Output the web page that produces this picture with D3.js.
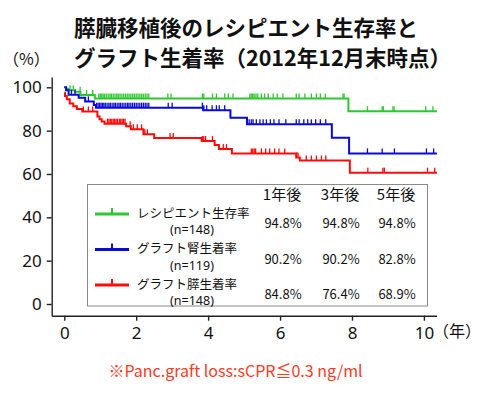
<!DOCTYPE html>
<html>
<head>
<meta charset="utf-8">
<script src="https://cdn.jsdelivr.net/npm/d3@7/dist/d3.min.js"></script>
<style>
  body { margin: 0; background: #fff; }
  text { font-family: "Noto Sans CJK JP", "Noto Sans", sans-serif; fill: #111; }
</style>
</head>
<body>
<div id="chart"></div>
<script>
// Kaplan-Meier steps (years, %)
var greenTimes  = [0, 0.05, 0.12, 0.3, 0.45, 0.85, 7.9];
var greenValues = [100, 99.3, 98.6, 97.9, 96.4, 94.8, 89.0];
var greenCensor = [0.16, 0.25, 0.44, 0.62, 0.79, 0.96, 1.0, 1.04, 1.08, 1.12, 1.17, 1.22, 1.27, 1.31, 1.36,
  1.41, 1.46, 1.5, 1.55, 1.6, 1.65, 1.7, 1.75, 1.8, 1.85, 1.9, 1.95, 2.0, 2.05, 2.1, 2.15, 2.2, 2.25, 2.3,
  2.35, 2.88, 2.97, 3.84, 3.88, 4.12, 4.23, 4.46, 4.56, 4.69, 5.16, 5.2, 5.24, 5.28, 5.33, 5.38, 5.48, 5.57,
  5.67, 5.81, 5.92, 6.08, 6.45, 6.53, 6.69, 6.87, 7.01, 7.12, 7.26, 7.75, 7.78, 8.43, 8.84, 8.87, 9.14,
  9.17, 10.05, 10.25];

var blueTimes  = [0, 0.05, 0.12, 0.4, 0.58, 0.82, 0.88, 3.86, 4.62, 5.08, 7.44, 7.92];
var blueValues = [100, 98.6, 96.6, 95.2, 93.5, 91.8, 90.6, 89.4, 86.0, 82.9, 76.7, 69.5];
var blueCensor = [0.2, 0.3, 0.67, 0.9, 0.94, 0.98, 1.02, 1.06, 1.1, 1.14, 1.19, 1.24, 1.28, 1.33, 1.38,
  1.42, 1.47, 1.52, 1.56, 1.61, 1.66, 1.71, 1.76, 1.8, 1.85, 1.9, 1.95, 2.0, 2.05, 2.1, 2.15, 2.2, 2.25,
  2.3, 2.35, 2.89, 3.0, 3.84, 3.88, 3.96, 4.11, 4.23, 4.31, 4.46, 5.14, 5.2, 5.25, 5.34, 5.44, 5.53, 5.62,
  5.73, 5.83, 5.97, 6.16, 6.45, 6.53, 6.66, 6.77, 6.87, 6.99, 7.12, 7.27, 8.43, 8.84, 9.18, 10.07, 10.27];

var redTimes  = [0, 0.02, 0.07, 0.15, 0.25, 0.35, 0.5, 0.92, 0.98, 1.04, 1.12, 1.72, 1.85, 2.2, 2.5,
  3.82, 4.18, 4.3, 4.66, 6.45, 6.55, 7.94];
var redValues = [97.5, 96, 94.5, 92.5, 91.2, 90, 88.8, 86.5, 85.3, 84.2, 83.2, 82.0, 80.6, 78.3, 76.6,
  75.2, 73.4, 71.5, 69.5, 67.6, 66.2, 60.6];
var redCensor = [0.53, 0.67, 0.79, 1.2, 1.24, 1.28, 1.32, 1.36, 1.4, 1.44, 1.48, 1.53, 1.57, 1.61, 1.65,
  1.69, 1.83, 1.92, 2.03, 2.15, 2.24, 2.31, 2.94, 3.03, 3.84, 3.88, 3.93, 4.12, 4.42, 4.51, 5.2, 5.24,
  5.28, 5.32, 5.48, 5.6, 5.71, 5.85, 5.97, 6.13, 6.46, 6.5, 6.73, 6.87, 7.01, 7.15, 7.27, 8.44, 8.86,
  8.9, 10.1, 10.3];

var endYear = 10.36;

// table in the legend box
var tableHeads = ["1年後", "3年後", "5年後"];
var seriesNames = ["レシピエント生存率", "グラフト腎生着率", "グラフト膵生着率"];
var seriesN = ["(n=148)", "(n=119)", "(n=148)"];
var rates = [
  ["94.8%", "94.8%", "94.8%"],
  ["90.2%", "90.2%", "82.8%"],
  ["84.8%", "76.4%", "68.9%"]
];

var xTicks = [0, 2, 4, 6, 8, 10];
var yTicks = [0, 20, 40, 60, 80, 100];

var colors = ["#2fc72f", "#0a0ad8", "#ff0a0a"];

var svgWidth = 489;
var svgHeight = 394;

var margin = { top: 77, right: 52.5, bottom: 78.3, left: 51.7 };
var chartWidth = svgWidth - margin.left - margin.right;
var chartHeight = svgHeight - margin.top - margin.bottom;

var svg = d3.select("#chart")
  .append("svg")
  .attr("width", svgWidth)
  .attr("height", svgHeight);

var chartGroup = svg.append("g")
  .attr("transform", `translate(${margin.left}, ${margin.top})`);

var xScale = d3.scaleLinear().domain([-0.35, 10.35]).range([0, chartWidth]);
var yScale = d3.scaleLinear().domain([-5.4, 104.75]).range([chartHeight, 0]);

// Axes
var bottomAxis = d3.axisBottom(xScale).tickValues(xTicks).tickSize(5).tickSizeOuter(0).tickPadding(6);
var leftAxis = d3.axisLeft(yScale).tickValues(yTicks).tickSize(5).tickSizeOuter(0).tickPadding(5);

var xAxisG = chartGroup.append("g")
  .attr("transform", `translate(0, ${chartHeight})`)
  .call(bottomAxis);
var yAxisG = chartGroup.append("g").call(leftAxis);

[xAxisG, yAxisG].forEach(function(g) {
  g.selectAll("path, line").attr("stroke", "#222").attr("stroke-width", 1.4);
  g.selectAll("text")
    .attr("font-size", "17px")
    .attr("fill", "#111")
    .style("font-family", "'Noto Sans', sans-serif");
});

// Step curves
var series = [
  { times: greenTimes, values: greenValues, censor: greenCensor },
  { times: blueTimes, values: blueValues, censor: blueCensor },
  { times: redTimes, values: redValues, censor: redCensor }
];

var stepLine = d3.line()
  .x(function(d) { return xScale(d[0]); })
  .y(function(d) { return yScale(d[1]); })
  .curve(d3.curveStepAfter);

function valueAt(s, t) {
  var i = d3.bisectRight(s.times, t) - 1;
  return s.values[Math.max(i, 0)];
}

series.forEach(function(s, k) {
  var pts = s.times.map(function(t, i) { return [t, s.values[i]]; });
  pts.push([endYear, s.values[s.values.length - 1]]);

  chartGroup.append("path")
    .datum(pts)
    .attr("d", stepLine)
    .attr("fill", "none")
    .attr("stroke", colors[k])
    .attr("stroke-width", 2);

  chartGroup.selectAll(".cens" + k)
    .data(s.censor)
    .enter()
    .append("line")
    .attr("class", "cens" + k)
    .attr("x1", function(d) { return xScale(d); })
    .attr("x2", function(d) { return xScale(d); })
    .attr("y1", function(d) { return yScale(valueAt(s, d)); })
    .attr("y2", function(d) { return yScale(valueAt(s, d)) - 5; })
    .attr("stroke", colors[k])
    .attr("stroke-width", 1.3);
});

// Legend box with table
var box = svg.append("g");
box.append("rect")
  .attr("x", 87.5)
  .attr("y", 184.5)
  .attr("width", 340)
  .attr("height", 121.5)
  .attr("fill", "#fff")
  .attr("stroke", "#8a8a8a")
  .attr("stroke-width", 1);

var colX = [282, 340, 396];

box.selectAll(".head")
  .data(tableHeads)
  .enter()
  .append("text")
  .attr("x", function(d, i) { return colX[i]; })
  .attr("y", 193.5)
  .attr("dominant-baseline", "central")
  .attr("text-anchor", "middle")
  .attr("font-size", "15px")
  .text(function(d) { return d; });

var rowY = [214, 249.5, 285];

seriesNames.forEach(function(name, r) {
  var y0 = rowY[r];
  box.append("line")
    .attr("x1", 95).attr("x2", 129)
    .attr("y1", y0).attr("y2", y0)
    .attr("stroke", colors[r]).attr("stroke-width", 3);
  box.append("line")
    .attr("x1", 112).attr("x2", 112)
    .attr("y1", y0).attr("y2", y0 - 6)
    .attr("stroke", colors[r]).attr("stroke-width", 2);
  box.append("text")
    .attr("x", 137)
    .attr("y", y0 - 2)
    .attr("dominant-baseline", "central")
    .attr("font-size", "12.5px")
    .text(name);
  box.append("text")
    .attr("x", 192)
    .attr("y", y0 + 15.5)
    .attr("dominant-baseline", "central")
    .attr("text-anchor", "middle")
    .attr("font-size", "12.5px")
    .style("font-family", "'Noto Sans', sans-serif")
    .text(seriesN[r]);
  box.selectAll(".rate" + r)
    .data(rates[r])
    .enter()
    .append("text")
    .attr("x", function(d, i) { return colX[i] + 1; })
    .attr("y", y0 + 8.5)
    .attr("dominant-baseline", "central")
    .attr("text-anchor", "middle")
    .attr("font-size", "13px")
    .text(function(d) { return d; });
});

// Title and labels
svg.append("text")
  .attr("x", 74).attr("y", 26)
  .attr("dominant-baseline", "central")
  .attr("font-size", "21.5px")
  .attr("font-weight", "bold")
  .text("膵臓移植後のレシピエント生存率と");
svg.append("text")
  .attr("x", 74).attr("y", 56.5)
  .attr("dominant-baseline", "central")
  .attr("font-size", "21.5px")
  .attr("font-weight", "bold")
  .text("グラフト生着率（2012年12月末時点）");

svg.append("text")
  .attr("x", 3).attr("y", 58)
  .attr("dominant-baseline", "central")
  .attr("font-size", "16px")
  .text("（%）");

svg.append("text")
  .attr("x", 433).attr("y", 330)
  .attr("dominant-baseline", "central")
  .attr("font-size", "16px")
  .text("（年）");

svg.append("text")
  .attr("x", 235.5).attr("y", 370)
  .attr("dominant-baseline", "central")
  .attr("text-anchor", "middle")
  .attr("font-size", "16px")
  .attr("fill", "#ff3a1e")
  .style("fill", "#ff3a1e")
  .text("※Panc.graft loss:sCPR≦0.3 ng/ml");
</script>
</body>
</html>
